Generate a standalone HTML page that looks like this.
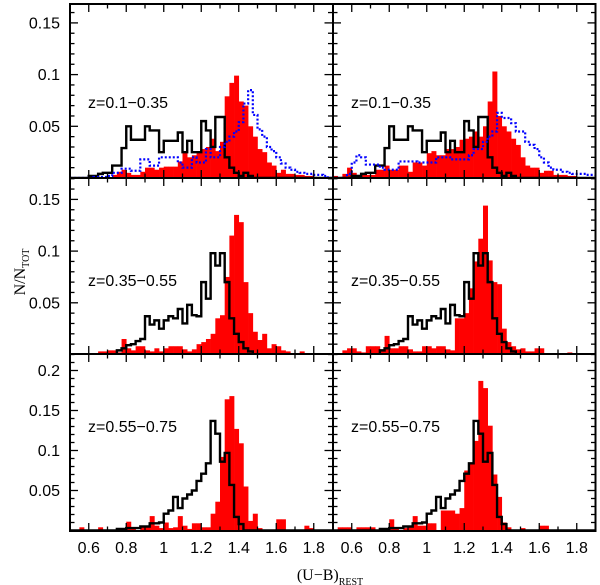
<!DOCTYPE html>
<html><head><meta charset="utf-8">
<style>
html,body{margin:0;padding:0;background:#fff;}
svg{display:block;font-family:"Liberation Sans",sans-serif;}
</style></head>
<body>
<svg id="chart" width="600" height="585" viewBox="0 0 600 585" xmlns="http://www.w3.org/2000/svg">
<g id="marks"></g>
<g id="axes"></g>
<text transform="translate(25,272) rotate(-90)" text-anchor="middle" font-size="16" font-family="Liberation Serif, serif">N/N<tspan font-size="10" dy="4">TOT</tspan></text>
<text x="330" y="580" text-anchor="middle" font-size="16" font-family="Liberation Serif, serif">(U−B)<tspan font-size="10" dy="5">REST</tspan></text>
</svg>
<script>
// bins: 0.5 .. 1.9 step 0.025 (56 bins)
const binStart = 0.5;
const binWidth = 0.025;
const xTickLabels = ["0.6","0.8","1","1.2","1.4","1.6","1.8"];
const xTickValues = [0.6,0.8,1.0,1.2,1.4,1.6,1.8];
const topYTicks = [0.05,0.1,0.15];
const midYTicks = [0.05,0.1,0.15];
const botYTicks = [0.05,0.1,0.15,0.2];
const topYTickLabels = ["0.05","0.1","0.15"];
const midYTickLabels = ["0.05","0.1","0.15"];
const botYTickLabels = ["0.05","0.1","0.15","0.2"];
const rowLabels = ["z=0.1−0.35","z=0.35−0.55","z=0.55−0.75"];

const blackTop = [0,0,0,0,0.002,0.002,0.004,0.005,0.005,0.012,0.012,0.029,0.050,0.037,0.037,0.037,0.050,0.046,0.046,0.025,0.036,0.036,0.036,0.044,0.025,0.036,0.025,0.025,0.055,0.046,0.030,0.059,0.059,0.020,0.010,0.005,0.002,0.005,0.002,0,0,0,0,0,0,0,0,0,0,0,0,0,0,0,0,0];
const blackMid = [0,0,0,0,0,0,0,0,0,0,0.004,0.006,0.009,0.010,0.013,0.015,0.037,0.029,0.033,0.025,0.033,0.037,0.035,0.044,0.030,0.048,0.038,0.037,0.070,0.054,0.098,0.086,0.098,0.070,0.035,0.020,0.012,0.006,0.003,0,0,0,0,0,0,0,0,0,0,0,0,0,0,0,0,0];
const blackBot = [0,0,0,0,0,0,0,0,0,0,0.002,0.002,0.003,0.003,0.003,0.005,0.005,0.009,0.009,0.010,0.021,0.025,0.042,0.028,0.040,0.045,0.050,0.062,0.071,0.084,0.137,0.121,0.086,0.097,0.057,0.017,0.008,0,0,0,0,0,0,0,0,0,0,0,0,0,0,0,0,0,0,0];

const redTL = [0,0,0,0,0,0,0,0,0,0.003,0.006,0.008,0.005,0.003,0.003,0.006,0.010,0.010,0.008,0.010,0.011,0.011,0.011,0.016,0.026,0.020,0.022,0.026,0.028,0.030,0.038,0.026,0.035,0.079,0.092,0.099,0.074,0.070,0.050,0.040,0.028,0.025,0.015,0.012,0.005,0.008,0.004,0.004,0.003,0.003,0.002,0.002,0,0,0,0];
const blueTL = [0,0,0,0,0,0.001,0.001,0.001,0.002,0.005,0.005,0.009,0.009,0.007,0.007,0.018,0.018,0.012,0.012,0.020,0.020,0.020,0.020,0.015,0.010,0.010,0.020,0.015,0.015,0.028,0.020,0.020,0.030,0.035,0.040,0.045,0.054,0.072,0.085,0.061,0.047,0.040,0.030,0.026,0.020,0.014,0.010,0.008,0.006,0.005,0.004,0.004,0.003,0.003,0.002,0];
const redTR = [0.002,0.001,0.004,0.010,0.005,0.003,0.003,0.003,0.003,0.008,0.008,0.012,0.008,0.008,0.012,0.012,0.006,0.015,0.015,0.012,0.024,0.026,0.022,0.022,0.028,0.028,0.030,0.037,0.038,0.040,0.045,0.040,0.050,0.074,0.103,0.060,0.050,0.045,0.038,0.032,0.020,0.012,0.010,0.010,0.005,0.007,0.007,0.003,0.003,0.003,0.002,0.002,0,0,0,0];
const blueTR = [0,0,0,0.004,0.015,0.022,0.020,0.013,0.013,0.013,0.010,0.008,0.008,0.008,0.016,0.016,0.016,0.016,0.015,0.015,0.015,0.015,0.020,0.020,0.020,0.018,0.018,0.018,0.018,0.022,0.028,0.028,0.035,0.040,0.045,0.063,0.058,0.058,0.053,0.045,0.045,0.035,0.032,0.028,0.020,0.015,0.010,0.008,0.008,0.006,0.005,0.004,0.004,0.004,0.003,0.003];
const redML = [0,0,0,0,0,0,0.003,0.003,0.004,0.004,0.002,0.015,0.006,0.004,0.008,0.008,0.004,0.003,0.006,0.003,0.006,0.008,0.008,0.008,0.005,0.003,0.005,0.010,0.012,0.015,0.020,0.035,0.038,0.075,0.115,0.135,0.128,0.070,0.040,0.022,0.014,0.020,0.006,0.010,0.008,0.004,0.003,0,0,0.003,0,0,0,0,0,0];
const redMR = [0,0,0.004,0.006,0.006,0.003,0.002,0.008,0.008,0.008,0.003,0.018,0.006,0.006,0.008,0.008,0.005,0.003,0.003,0.008,0.008,0.006,0.008,0.008,0.005,0.004,0.035,0.035,0.040,0.064,0.090,0.112,0.144,0.091,0.070,0.068,0.025,0.012,0.008,0.005,0.006,0.003,0.003,0.006,0.006,0,0,0,0,0,0.002,0,0,0,0,0];
const redBL = [0,0,0.004,0,0,0,0.004,0,0,0,0,0,0.011,0.003,0,0.004,0.006,0.018,0.006,0.003,0.010,0.003,0.004,0.018,0.006,0.002,0.009,0.009,0.004,0.004,0.021,0.036,0.092,0.164,0.168,0.127,0.109,0.055,0.012,0.021,0.003,0,0,0,0.014,0.014,0,0,0,0,0.006,0.003,0,0,0,0];
const redBR = [0,0.004,0.004,0.004,0,0.004,0.004,0.004,0.004,0,0,0,0.014,0.003,0,0.003,0.004,0.018,0.006,0.006,0.009,0.009,0,0.025,0.025,0.025,0.021,0.028,0.075,0.085,0.112,0.187,0.178,0.131,0.070,0.042,0.010,0.004,0,0,0.003,0,0,0,0.006,0.006,0,0,0,0,0,0,0,0,0,0];

const NS = "http://www.w3.org/2000/svg";
const marks = document.getElementById('marks');
const axes = document.getElementById('axes');
function mk(tag, attrs, parent){const e=document.createElementNS(NS,tag);for(const k in attrs)e.setAttribute(k,attrs[k]);parent.appendChild(e);return e;}

const cols = [{x0:70},{x0:333}];
const rows = [{top:4,zero:178,scale:1034,ticks:topYTicks,labels:topYTickLabels},
              {top:178,zero:354.5,scale:1034,ticks:midYTicks,labels:midYTickLabels},
              {top:354,zero:530.5,scale:800,ticks:botYTicks,labels:botYTickLabels}];
const pxPerUnit = 187.5;
const panelW = 262.5;
const panels = [
 {r:0,c:0,red:redTL,black:blackTop,blue:blueTL},
 {r:0,c:1,red:redTR,black:blackTop,blue:blueTR},
 {r:1,c:0,red:redML,black:blackMid,blue:null},
 {r:1,c:1,red:redMR,black:blackMid,blue:null},
 {r:2,c:0,red:redBL,black:blackBot,blue:null},
 {r:2,c:1,red:redBR,black:blackBot,blue:null}];

function stepPath(arr,xs,ys,zero){
  let d="M"+xs(binStart)+","+zero;
  for(let i=0;i<arr.length;i++){
    const xa=xs(binStart+i*binWidth), xb=xs(binStart+(i+1)*binWidth), y=ys(arr[i]);
    d+=" L"+xa+","+y+" L"+xb+","+y;
  }
  d+=" L"+xs(binStart+arr.length*binWidth)+","+zero;
  return d;
}

panels.forEach((p,pi)=>{
  const C=cols[p.c], R=rows[p.r];
  const xs=v=>C.x0+(v-binStart)*pxPerUnit;
  const ys=v=>R.zero-v*R.scale;
  const bottom=(p.r===2)?531:(p.r===1?354:178);
  const g=mk('g',{},marks);
  
  
  const cid='clip'+pi;
  const cp=mk('clipPath',{id:cid},g);
  mk('rect',{x:C.x0,y:R.top,width:panelW,height:bottom-R.top},cp);
  const hg=mk('g',{'clip-path':'url(#'+cid+')'},g);
  p.red.forEach((v,i)=>{
    if(v<=0)return;
    const x=xs(binStart+i*binWidth);
    const b=mk('rect',{x:x,y:ys(v),width:binWidth*pxPerUnit+0.3,height:v*R.scale,fill:'#ff0000'},hg);
    
    
  });
  const bl=mk('path',{d:stepPath(p.black,xs,ys,R.zero),fill:'none',stroke:'#000','stroke-width':2.4},hg);
  
  
  if(p.blue){
    const bu=mk('path',{d:stepPath(p.blue,xs,ys,R.zero),fill:'none',stroke:'#0000ff','stroke-width':2.2,'stroke-dasharray':'2,2'},hg);
    
    
  }
  const lab=mk('text',{x:C.x0+18,y:R.top+(p.r===2?78:104)+ (p.r===1?4:0),'font-size':16},g);
  lab.textContent=rowLabels[p.r];
  
  
  const tk=mk('g',{stroke:'#000','stroke-width':1.3},axes);
  
  
  for(let k=0;k<13;k++){
    const v=0.6+k*0.1; const major=(k%2===0); const L=major?8:4.5; const x=xs(v);
    mk('line',{x1:x,y1:bottom,x2:x,y2:bottom-L},tk);
    mk('line',{x1:x,y1:R.top,x2:x,y2:R.top+L},tk);
  }
  const maxV=(R.zero-R.top)/R.scale;
  for(let k=1;k*0.01<maxV;k++){
    const v=k*0.01; const major=(k%5===0); const L=major?8:4.5; const y=ys(v);
    mk('line',{x1:C.x0,y1:y,x2:C.x0+L,y2:y},tk);
    mk('line',{x1:C.x0+panelW,y1:y,x2:C.x0+panelW-L,y2:y},tk);
  }
  if(p.c===0){
    R.ticks.forEach((v,i)=>{
      const t=mk('text',{x:60,y:ys(v)+5.5,'text-anchor':'end','font-size':16},axes);
      t.textContent=R.labels[i];
      
      
    });
  }
  if(p.r===2){
    xTickValues.forEach((v,i)=>{
      const t=mk('text',{x:xs(v),y:553,'text-anchor':'middle','font-size':16},axes);
      t.textContent=xTickLabels[i];
      
      
    });
  }
});
const fr=mk('g',{stroke:'#000','stroke-width':2,fill:'none'},axes);


mk('rect',{x:70,y:4,width:525.5,height:527},fr);
mk('line',{x1:333,y1:4,x2:333,y2:531},fr);
mk('line',{x1:70,y1:178,x2:595.5,y2:178},fr);
mk('line',{x1:70,y1:354,x2:595.5,y2:354},fr);
</script>
</body></html>
